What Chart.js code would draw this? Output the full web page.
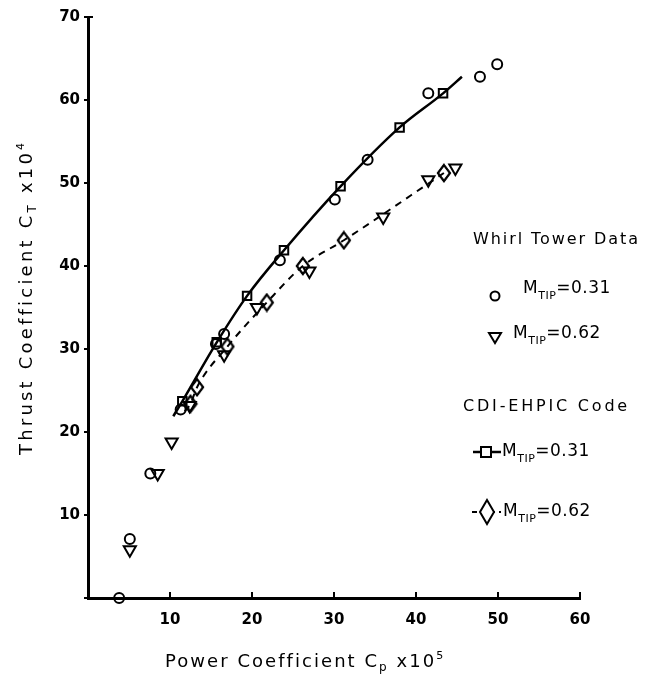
<!DOCTYPE html>
<html>
<head>
<meta charset="utf-8">
<script src="https://cdn.jsdelivr.net/npm/chart.js@4.4.1/dist/chart.umd.min.js"></script>
<style>
html,body{margin:0;padding:0;background:#fff;}
</style>
</head>
<body>
<canvas id="myChart" width="646" height="677"></canvas>
<script>
// whirl tower data, M_TIP = 0.31 (circles)
var whirl31X = [3.8, 5.1, 7.6, 11.3, 15.6, 16.6, 23.4, 30.1, 34.1, 41.5, 47.8, 49.9];
var whirl31Y = [0.0, 7.1, 15.0, 22.7, 30.6, 31.8, 40.7, 48.0, 52.8, 60.8, 62.8, 64.3];
// whirl tower data, M_TIP = 0.62 (triangles)
var whirl62X = [5.1, 8.5, 10.2, 12.4, 16.6, 20.6, 27.0, 36.0, 41.5, 44.8];
var whirl62Y = [5.8, 15.0, 18.8, 23.2, 29.3, 35.0, 39.4, 45.9, 50.4, 51.8];
// CDI-EHPIC code, M_TIP = 0.31 (solid line, squares), first/last = curve ends
var cdi31X = [10.4, 11.5, 15.7, 19.4, 23.9, 30.8, 38.0, 43.3, 45.6];
var cdi31Y = [21.9, 23.7, 30.8, 36.4, 41.9, 49.6, 56.7, 60.8, 62.8];
// CDI-EHPIC code, M_TIP = 0.62 (dashed line, diamonds), first = curve start
var cdi62X = [11.8, 12.5, 13.3, 17.0, 21.8, 26.2, 31.2, 43.4];
var cdi62Y = [22.5, 23.4, 25.4, 30.3, 35.6, 40.0, 43.1, 51.2];

var xTicks = [10, 20, 30, 40, 50, 60];
var yTicks = [10, 20, 30, 40, 50, 60, 70];

var FONT = "'DejaVu Sans'";
var ctx;
var chart;

function pts(xs, ys)
{
	var out = [];
	for(var i = 0; i < xs.length; i++) out.push({x: xs[i], y: ys[i]});
	return out;
}

function makeDiamond(w, h, lw)
{
	var c = document.createElement('canvas');
	c.width = w + lw * 2;
	c.height = h + lw * 2;
	var g = c.getContext('2d');
	g.lineWidth = lw;
	g.lineJoin = 'miter';
	g.strokeStyle = '#000';
	g.beginPath();
	g.moveTo(c.width / 2, lw);
	g.lineTo(c.width - lw, c.height / 2);
	g.lineTo(c.width / 2, c.height - lw);
	g.lineTo(lw, c.height / 2);
	g.closePath();
	g.stroke();
	g.stroke();
	return c;
}
var diamond = makeDiamond(12, 16, 2);

// text with sub/superscripts, parts: [text, size, dy]
function richWidth(c, parts, ls)
{
	var w = 0;
	parts.forEach(function(p){
		c.font = p[1] + 'px ' + FONT;
		w += c.measureText(p[0]).width + p[0].length * ls;
	});
	return w;
}
function drawRich(c, parts, x, y, ls)
{
	c.textBaseline = 'alphabetic';
	c.textAlign = 'left';
	parts.forEach(function(p){
		c.font = p[1] + 'px ' + FONT;
		c.letterSpacing = ls + 'px';
		c.fillText(p[0], x, y + p[2]);
		x += c.measureText(p[0]).width;
	});
	c.letterSpacing = '0px';
}
function fitSpacing(c, parts, target)
{
	var nat = richWidth(c, parts, 0);
	var n = 0;
	parts.forEach(function(p){ n += p[0].length; });
	return Math.max(0, (target - nat) / n);
}

var extras = {
	id: 'extras',
	afterDraw: function(ch)
	{
		var c = ch.ctx;
		var xs = ch.scales.x, ys = ch.scales.y;
		var x0 = xs.getPixelForValue(0), y0 = ys.getPixelForValue(0);
		c.save();
		c.strokeStyle = '#000';
		c.fillStyle = '#000';
		c.lineWidth = 2;
		// small inward ticks on x axis
		xTicks.forEach(function(v){
			var px = xs.getPixelForValue(v);
			c.beginPath(); c.moveTo(px, y0); c.lineTo(px, y0 - 6); c.stroke();
		});
		// hook at top of y axis
		var yt = ys.getPixelForValue(70);
		c.beginPath(); c.moveTo(x0, yt); c.lineTo(x0 + 5, yt); c.stroke();

		// axis titles
		var xt = [['Power Coefficient C', 18, 0], ['p', 12, 4], [' x10', 18, 0], ['5', 11, -8]];
		var ls = fitSpacing(c, xt, 280);
		drawRich(c, xt, 165, 667, ls);

		var ytl = [['Thrust Coefficient C', 18, 0], ['T', 12, 4], [' x10', 18, 0], ['4', 11, -8]];
		ls = fitSpacing(c, ytl, 315);
		c.save();
		c.translate(32, 455);
		c.rotate(-Math.PI / 2);
		drawRich(c, ytl, 0, 0, ls);
		c.restore();

		// legend
		var h1 = [['Whirl Tower Data', 16, 0]];
		drawRich(c, h1, 473, 244, fitSpacing(c, h1, 167));
		var h2 = [['CDI-EHPIC Code', 16, 0]];
		drawRich(c, h2, 463, 411, fitSpacing(c, h2, 167));

		var m31 = [['M', 17, 0], ['TIP', 11, 6], ['=0.31', 17, 0]];
		var m62 = [['M', 17, 0], ['TIP', 11, 6], ['=0.62', 17, 0]];

		c.lineWidth = 2;
		// circle
		c.beginPath(); c.arc(495, 296, 4.5, 0, Math.PI * 2); c.stroke();
		drawRich(c, m31, 523, 293, 0.5);
		// triangle
		c.beginPath(); c.moveTo(489, 333); c.lineTo(501, 333); c.lineTo(495, 343); c.closePath(); c.stroke();
		drawRich(c, m62, 513, 338, 0.5);
		// solid line + square
		c.lineWidth = 2.5;
		c.beginPath(); c.moveTo(473, 452); c.lineTo(501, 452); c.stroke();
		c.lineWidth = 2;
		c.fillStyle = '#fff';
		c.fillRect(481, 447, 10, 10);
		c.strokeRect(481, 447, 10, 10);
		c.fillStyle = '#000';
		drawRich(c, m31, 502, 456, 0.5);
		// dashed line + diamond
		c.setLineDash([5, 4]);
		c.beginPath(); c.moveTo(472, 512); c.lineTo(501, 512); c.stroke();
		c.setLineDash([]);
		c.fillStyle = '#fff';
		c.beginPath(); c.moveTo(487, 500); c.lineTo(494, 512); c.lineTo(487, 524); c.lineTo(480, 512); c.closePath();
		c.fill(); c.stroke();
		c.fillStyle = '#000';
		drawRich(c, m62, 503, 516, 0.5);
		c.restore();
	}
};

window.onload = function()
{
	ctx = document.getElementById('myChart').getContext('2d');
	var none = 'rgba(0,0,0,0)';
	chart = new Chart(ctx, {
		type: 'scatter',
		data: {
			datasets: [{
				data: pts(cdi31X, cdi31Y),
				showLine: true,
				cubicInterpolationMode: 'monotone',
				borderColor: '#000',
				borderWidth: 2.5,
				backgroundColor: none,
				pointStyle: 'rect',
				pointRadius: cdi31X.map(function(v, i){ return (i === 0 || i === cdi31X.length - 1) ? 0 : 6; }),
				pointBorderWidth: 2,
				pointBorderColor: '#000',
				clip: false
			}, {
				data: pts(cdi62X, cdi62Y),
				showLine: true,
				cubicInterpolationMode: 'monotone',
				borderColor: '#000',
				borderWidth: 2,
				borderDash: [7, 6],
				backgroundColor: none,
				pointStyle: cdi62X.map(function(v, i){ return i === 0 ? 'circle' : diamond; }),
				pointRadius: cdi62X.map(function(v, i){ return i === 0 ? 0 : 8; }),
				clip: false
			}, {
				data: pts(whirl31X, whirl31Y),
				showLine: false,
				pointStyle: 'circle',
				pointRadius: 5,
				pointBorderWidth: 2,
				pointBorderColor: '#000',
				pointBackgroundColor: none,
				clip: false
			}, {
				data: pts(whirl62X, whirl62Y),
				showLine: false,
				pointStyle: 'triangle',
				rotation: 180,
				pointRadius: 7,
				pointBorderWidth: 2,
				pointBorderColor: '#000',
				pointBackgroundColor: none,
				clip: false
			}]
		},
		options: {
			responsive: false,
			animation: false,
			layout: {autoPadding: false, padding: {top: 17, right: 66, left: 0, bottom: 0}},
			plugins: {legend: {display: false}, tooltip: {enabled: false}},
			scales: {
				x: {
					type: 'linear', min: 0, max: 60,
					afterBuildTicks: function(s){ s.ticks = [0].concat(xTicks).map(function(v){ return {value: v}; }); },
					ticks: {
						callback: function(v){ return v === 0 ? '' : v; },
						color: '#000', padding: 13, maxRotation: 0,
						font: {family: FONT, size: 15, weight: 'bold'}
					},
					grid: {drawOnChartArea: false, drawTicks: false},
					border: {color: '#000', width: 3},
					afterFit: function(s){ s.height = 79; }
				},
				y: {
					type: 'linear', min: 0, max: 70,
					afterBuildTicks: function(s){ s.ticks = [0].concat(yTicks).map(function(v){ return {value: v}; }); },
					ticks: {
						callback: function(v){ return v === 0 ? '' : v; },
						color: '#000', padding: 4,
						font: {family: FONT, size: 15, weight: 'bold'}
					},
					grid: {drawOnChartArea: false, drawTicks: true, tickLength: 4, color: '#000', lineWidth: 2},
					border: {color: '#000', width: 3},
					afterFit: function(s){ s.width = 88; }
				}
			}
		},
		plugins: [extras]
	});
}
</script>
</body>
</html>
